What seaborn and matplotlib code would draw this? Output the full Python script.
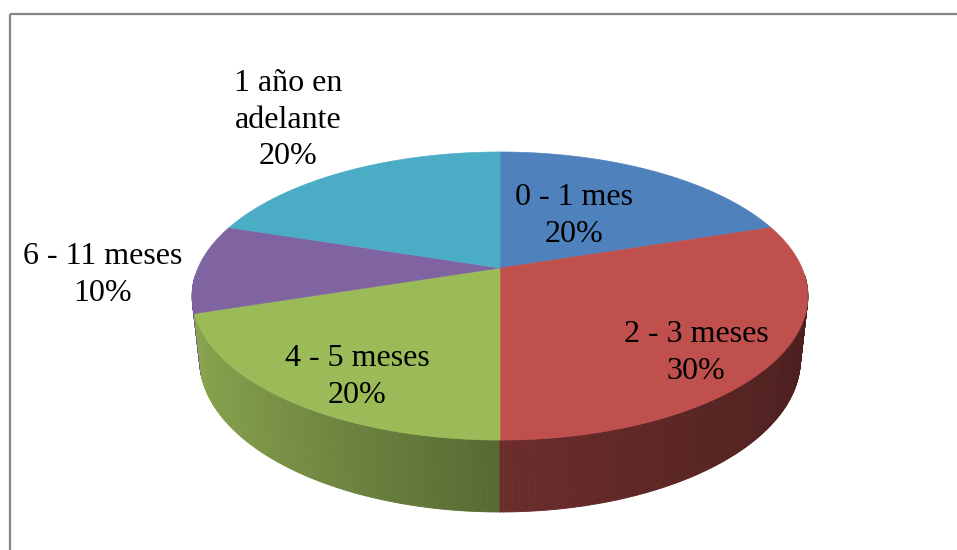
import numpy as np
import matplotlib
matplotlib.use("Agg")
import matplotlib.pyplot as plt
import seaborn as sns
from matplotlib.collections import PolyCollection
from matplotlib.patches import Rectangle
from matplotlib.colors import to_rgb

# ---- data -------------------------------------------------------------
categories = ["0 - 1 mes", "2 - 3 meses", "4 - 5 meses", "6 - 11 meses", "1 año en\nadelante"]
percentages = [20, 30, 20, 10, 20]
colors = ["#4F81BD", "#C0504D", "#9BBB59", "#8064A2", "#4BACC6"]

# ---- style ------------------------------------------------------------
sns.set_theme(style="white")
plt.rcParams["font.family"] = ["Liberation Serif", "DejaVu Serif"]

W, H = 957, 550
fig = plt.figure(figsize=(W / 100, H / 100), dpi=100)
ax = fig.add_axes([0, 0, 1, 1])
ax.set_xlim(0, W)
ax.set_ylim(H, 0)
ax.axis("off")

# chart-area frame (continues past the right and bottom edges)
ax.add_patch(Rectangle((10, 14), W + 20, H + 20, fill=False,
                       edgecolor="#878787", linewidth=1.6, zorder=0))

# ---- perspective camera for the 3-D disc ------------------------------
CX, CY = 500.0, 268.0          # screen position of the disc centre
FOCAL, DIST = 1379.0, 4.566
SIN_T, COS_T = 0.459, 0.888    # camera tilt
THICK = 0.2376                 # disc thickness (in radius units)


def project(u, v, z):
    d = DIST + v * COS_T - z * SIN_T
    x = CX + FOCAL * u / d
    y = CY - FOCAL * (v * SIN_T + z * COS_T) / d
    return x, y


def shade(t):
    """Brightness factor for the outer wall at angle t (radians)."""
    c = np.cos(t)
    return np.where(c < 0, 0.56 - 0.34 * c, 0.56 - 0.17 * c)


# slice angle ranges: start at 12 o'clock, clockwise
fracs = np.array(percentages, dtype=float) / np.sum(percentages)
edges = np.pi / 2 - 2 * np.pi * np.concatenate([[0], np.cumsum(fracs)])

# ---- outer wall --------------------------------------------------------
wall_polys, wall_cols = [], []
step = np.radians(0.5)
for i, col in enumerate(colors):
    t0, t1 = edges[i], edges[i + 1]        # t0 > t1
    ts = np.arange(t0, t1 - 1e-9, -step)
    ts = np.append(ts, t1)
    base = np.array(to_rgb(col))
    for a, b in zip(ts[:-1], ts[1:]):
        m = 0.5 * (a + b)
        if np.sin(m) > -0.05:
            continue
        p1 = project(np.cos(a), np.sin(a), 0)
        p2 = project(np.cos(b), np.sin(b), 0)
        p3 = project(np.cos(b), np.sin(b), -THICK)
        p4 = project(np.cos(a), np.sin(a), -THICK)
        wall_polys.append([p1, p2, p3, p4])
        wall_cols.append(np.clip(base * shade(m), 0, 1))

order = np.argsort([-np.mean([p[1] for p in poly]) for poly in wall_polys])[::-1]
ax.add_collection(PolyCollection([wall_polys[k] for k in order],
                                 facecolors=[wall_cols[k] for k in order],
                                 edgecolors=[wall_cols[k] for k in order],
                                 linewidths=0.6, zorder=2))

# ---- top face ----------------------------------------------------------
for i, col in enumerate(colors):
    ts = np.linspace(edges[i], edges[i + 1], 200)
    xs, ys = project(np.cos(ts), np.sin(ts), 0)
    px = np.concatenate([[CX], xs])
    py = np.concatenate([[CY], ys])
    ax.fill(px, py, color=col, linewidth=0.4, edgecolor=col, zorder=3)

# ---- data labels -------------------------------------------------------
label_pos = [(574, 216), (696, 353), (357, 377), (103, 275), (288, 120)]
for name, pct, (lx, ly) in zip(categories, percentages, label_pos):
    ax.text(lx, ly, f"{name}\n{pct}%", ha="center", va="center",
            fontsize=23, color="black", linespacing=1.36, zorder=5)

fig.savefig("out.png", dpi=100, facecolor="white")
